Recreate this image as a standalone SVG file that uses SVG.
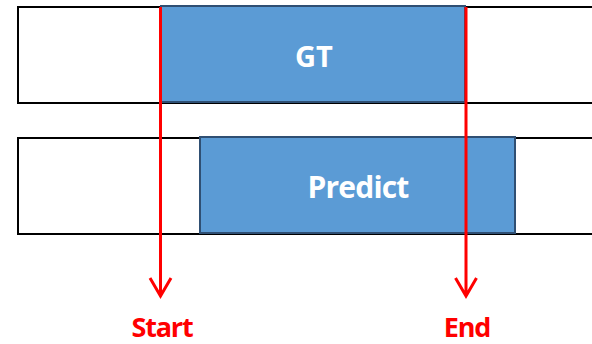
<svg xmlns="http://www.w3.org/2000/svg" width="592" height="344" viewBox="0 0 592 344">
<style>
.lane{fill:#fff;stroke:#000;stroke-width:2}
.bar{fill:#5B9BD5;stroke:#2F4F73;stroke-width:2}
.lbl{font-family:"Open Sans","Liberation Sans",sans-serif;font-weight:bold;fill:#fff;text-anchor:middle}
.mark{font-family:"Open Sans","Liberation Sans",sans-serif;font-weight:bold;fill:#FF0000;text-anchor:middle;font-size:27px;letter-spacing:-1.2px}
.conn{stroke:#FF0000;stroke-width:3;fill:none}
</style>
<g id="gt-lane"><rect class="lane" x="18" y="7" width="580" height="96"/></g>
<g id="pred-lane"><rect class="lane" x="18" y="138" width="580" height="96"/></g>
<g id="gt"><rect class="bar" x="161" y="6" width="304" height="96"/><text class="lbl" x="314" y="67" font-size="29">GT</text></g>
<g id="predict"><rect class="bar" x="200" y="137" width="315" height="96"/><text class="lbl" x="358" y="198" font-size="30" letter-spacing="-0.8">Predict</text></g>
<g id="connectors">
<path class="conn" d="M160.5 7V296M150 278L160.5 296L171 278"/>
<path class="conn" d="M466 7V296M455.5 278L466 296L476.5 278"/>
</g>
<g id="start"><text class="mark" x="162" y="337">Start</text></g>
<g id="end"><text class="mark" x="467" y="337">End</text></g>
</svg>
